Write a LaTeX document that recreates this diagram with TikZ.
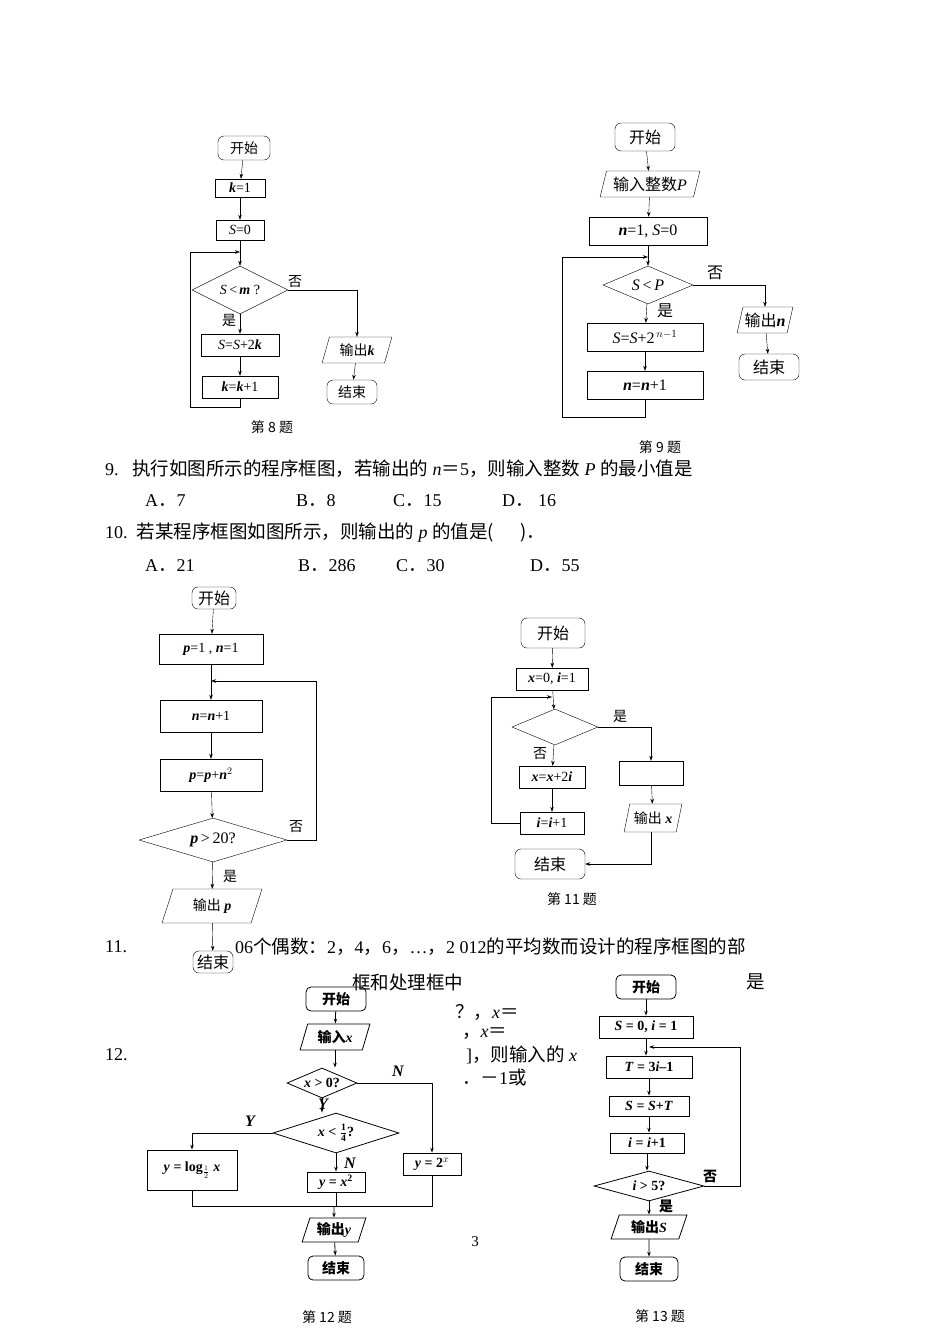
\documentclass[tikz,border=0pt]{standalone}
\usepackage{fontspec}
\setmainfont{Liberation Serif}
\newfontfamily\cjk{Noto Sans CJK SC}
\newcommand\zh[1]{{\cjk #1}}
\newcommand\zt[1]{{\cjk\fontsize{18.5}{18.5}\selectfont #1}}
\usetikzlibrary{shapes.geometric,arrows.meta}
\tikzset{
 every picture/.style={x=1pt,y=-1pt},
 bx/.style={draw,thin,inner sep=0pt,font=\fontsize{14}{14}\selectfont},
 bxl/.style={bx,font=\fontsize{16}{16}\selectfont},
 rbx/.style={bx,rounded corners=6pt},
 dia/.style={bx,diamond,aspect=2.2},
 par/.style={bx,trapezium,trapezium left angle=70,trapezium right angle=110,trapezium stretches=true},
 ar/.style={-{Stealth[length=5pt,width=3.5pt]},thin},
 lb/.style={font=\fontsize{14}{14}\selectfont\cjk},
 lbl/.style={font=\fontsize{16}{16}\selectfont\cjk},
 tx/.style={font=\fontsize{18}{18}\selectfont,anchor=west,inner sep=0pt},
 NY/.style={font=\fontsize{16}{16}\selectfont\itshape\bfseries},
}
\begin{document}
\begin{tikzpicture}
\useasboundingbox (0,0) rectangle (950,1342);
% ---- chart 8
\node[rbx,minimum width=52,minimum height=24] (a1) at (244,148) {\zh{开始}};
\node[bx,minimum width=50,minimum height=18] (a2) at (240,188) {\textbf{\textit{k}}=1};
\node[bx,minimum width=48,minimum height=20] (a3) at (240,230) {\textit{S}=0};
\node[dia,minimum width=96,minimum height=48] (a4) at (240,290) {\textit{S}\,<\,\textbf{\textit{m}} ?};
\node[bx,minimum width=78,minimum height=22] (a5) at (240,345) {\textit{S}=\textit{S}+2\textbf{\textit{k}}};
\node[bx,minimum width=76,minimum height=22] (a6) at (240,387) {\textbf{\textit{k}}=\textbf{\textit{k}}+1};
\node[par,minimum width=70,minimum height=26] (a7) at (357,350) {\zh{输出}\textbf{\textit{k}}};
\node[rbx,minimum width=50,minimum height=24] (a8) at (352,392) {\zh{结束}};
\draw[ar] (a1)--(a2); \draw[ar] (a2)--(a3); \draw[ar] (a3)--(a4);
\draw[ar] (a4)--(a5); \draw[ar] (a5)--(a6);
\draw[ar] (a4.east)-|(a7.north); \draw[ar] (a7)--(a8);
\coordinate (j8) at (240,252);
\draw[ar] (a6.south)--(240,407)-|(190,252)--(j8);
\node[lb] at (295,282) {否}; \node[lb] at (229,320) {是};
\node[lb] at (272,427) {第 8 题};
% ---- chart 9
\node[rbx,bxl,minimum width=60,minimum height=28] (b1) at (645,137) {\zh{开始}};
\node[par,bxl,minimum width=100,minimum height=26] (b2) at (650,184) {\zh{输入整数}\textit{P}};
\node[bxl,minimum width=118,minimum height=28] (b3) at (648,231) {\textbf{\textit{n}}=1, \textit{S}=0};
\node[dia,bxl,minimum width=90,minimum height=38] (b4) at (648,285) {\textit{S}\,<\,\textit{P}};
\node[bxl,minimum width=116,minimum height=28] (b5) at (645,337) {\textit{S}=\textit{S}+2$^{\,n-1}$};
\node[bxl,minimum width=116,minimum height=28] (b6) at (645,385) {\textbf{\textit{n}}=\textbf{\textit{n}}+1};
\node[par,bxl,minimum width=56,minimum height=26] (b7) at (765,320) {\zh{输出}\textbf{\textit{n}}};
\node[rbx,bxl,minimum width=60,minimum height=26] (b8) at (769,367) {\zh{结束}};
\draw[ar] (b1)--(b2); \draw[ar] (b2)--(b3); \draw[ar] (b3)--(b4);
\draw[ar] (b4)--(b5); \draw[ar] (b5)--(b6);
\draw[ar] (b4.east)-|(b7.north); \draw[ar] (b7)--(b8);
\coordinate (j9) at (648,257);
\draw[ar] (b6.south)--(645,417)-|(562,257)--(j9);
\node[lbl] at (665,311) {是}; \node[lbl] at (715,273) {否};
\node[lb] at (660,447) {第 9 题};
% ---- texts
\node[tx] at (105,469) {9.\ \ \ \zt{执行如图所示的程序框图，若输出的} \textit{n}\zt{＝}5\zt{，则输入整数} \textit{P} \zt{的最小值是}};
\node[tx] at (145,501) {A\zt{．}7}; \node[tx] at (296,501) {B\zt{．}8};
\node[tx] at (393,501) {C\zt{．}15}; \node[tx] at (502,501) {D\zt{．} 16};
\node[tx] at (105,533) {10.\ \ \zt{若某程序框图如图所示，则输出的} \textit{p} \zt{的值是(\quad\ \ )．}};
\node[tx] at (145,566) {A\zt{．}21}; \node[tx] at (298,566) {B\zt{．}286};
\node[tx] at (396,566) {C\zt{．}30}; \node[tx] at (530,566) {D\zt{．}55};
% ---- chart 10
\node[rbx,bxl,minimum width=44,minimum height=22] (c1) at (214,598) {\zh{开始}};
\node[bx,minimum width=104,minimum height=30] (c2) at (211,649) {\textbf{\textit{p}}=1 , \textbf{\textit{n}}=1};
\node[bx,minimum width=102,minimum height=32] (c3) at (211,716) {\textbf{\textit{n}}=\textbf{\textit{n}}+1};
\node[bx,minimum width=102,minimum height=32] (c4) at (211,775) {\textbf{\textit{p}}=\textbf{\textit{p}}+\textbf{\textit{n}}$^2$};
\node[dia,bxl,minimum width=148,minimum height=44,aspect=3.3] (c5) at (213,840) {\textbf{\textit{p}}\,>\,20?};
\node[par,minimum width=100,minimum height=34] (c6) at (212,906) {\zh{输出} \textbf{\textit{p}}};
\node[rbx,bxl,minimum width=40,minimum height=22] (c7) at (213,962) {\zh{结束}};
\draw[ar] (c1)--(c2); \coordinate (j10) at (211,681);
\draw[ar] (c2)--(c3); \draw[ar] (c3)--(c4); \draw[ar] (c4)--(c5);
\draw[ar] (c5)--(c6); \draw[ar] (c6)--(c7);
\draw[ar] (c5.east)--(316,840)--(316,681)--(j10);
\node[lb] at (296,827) {否}; \node[lb] at (230,876) {是};
% ---- chart 11
\node[rbx,bxl,minimum width=64,minimum height=30] (d1) at (553,633) {\zh{开始}};
\node[bx,minimum width=72,minimum height=22] (d2) at (552,679) {\textbf{\textit{x}}=0, \textbf{\textit{i}}=1};
\node[dia,minimum width=86,minimum height=36] (d3) at (555,727) {};
\node[bx,minimum width=66,minimum height=22] (d4) at (552,777) {\textbf{\textit{x}}=\textbf{\textit{x}}+2\textbf{\textit{i}}};
\node[bx,minimum width=64,minimum height=22] (d5) at (552,823) {\textbf{\textit{i}}=\textbf{\textit{i}}+1};
\node[bx,minimum width=64,minimum height=24] (d6) at (651,773) {};
\node[par,minimum width=58,minimum height=28] (d7) at (653,818) {\zh{输出} \textbf{\textit{x}}};
\node[rbx,bxl,minimum width=70,minimum height=30] (d8) at (550,864) {\zh{结束}};
\draw[ar] (d1)--(d2); \draw[ar] (d2)--(d3); \draw[ar] (d3)--(d4); \draw[ar] (d4)--(d5);
\coordinate (j11) at (552,697);
\draw[ar] (d5.west)--(491,823)--(491,697)--(j11);
\draw[ar] (d3.east)-|(d6.north); \draw[ar] (d6)--(d7);
\draw[ar] (d7.south-|651,0)--(651,864)--(d8.east);
\node[lb] at (620,716) {是}; \node[lb] at (540,754) {否};
\node[lb] at (572,899) {第 11 题};
% ---- text 11/12
\node[tx] at (105,947) {11.};
\node[tx] at (235,947) {06\zt{个偶数：}2\zt{，}4\zt{，}6\zt{，}…\zt{，}2 012\zt{的平均数而设计的程序框图的部}};
\node[tx] at (352,982) {\zt{框和处理框中}};
\node[tx] at (746,982) {\zt{是}};
\node[tx] at (455,1012) {\zt{？，}\textit{x}\zt{＝}};
\node[tx] at (462,1034) {\zt{，}\textit{x}\zt{＝}};
\node[tx] at (466,1055) {]\zt{，则输入的} \textit{x}};
\node[tx] at (462,1077) {\zt{．－}1\zt{或}};
\node[tx] at (105,1055) {12.};
\node[font=\fontsize{15}{15}\selectfont] at (475,1242) {3};
% ---- chart 12
\tikzset{bb/.style={draw,thick,inner sep=0pt,font=\fontsize{14}{14}\selectfont\bfseries}}
\node[bb,rounded corners=5pt,minimum width=60,minimum height=24] (e1) at (336,999) {\zh{开始}};
\node[par,bb,minimum width=70,minimum height=26] (e2) at (335,1037) {\zh{输入}\textit{x}};
\node[bb,diamond,aspect=2.3,minimum width=70,minimum height=30] (e3) at (322,1083) {\textit{x} > 0?};
\node[bb,diamond,aspect=3.1,minimum width=126,minimum height=40] (e4) at (336,1133) {\textit{x} < $\frac{\mathbf{1}}{\mathbf{4}}$?};
\node[bb,minimum width=90,minimum height=40] (e5) at (192,1170) {\textit{y} = log$_{\frac{1}{2}}$ \textit{x}};
\node[bb,minimum width=58,minimum height=20] (e6) at (336,1182) {\textit{y} = \textit{x}$^{\mathbf 2}$};
\node[bb,minimum width=58,minimum height=22] (e7) at (432,1164) {\textit{y} = 2$^{x}$};
\node[par,bb,minimum width=64,minimum height=24] (e8) at (334,1230) {\zh{输出}\textit{y}};
\node[bb,rounded corners=5pt,minimum width=56,minimum height=24] (e9) at (336,1268) {\zh{结束}};
\draw[ar,thick] (e1)--(e2); \draw[ar,thick] (e2.south)--(e3.north-|e2.south);
\draw[ar,thick] (e3.south)--(e4.north-|e3.south);
\draw[ar,thick] (e3.east)-|(e7.north);
\draw[ar,thick] (e4.west)-|(e5.north);
\draw[ar,thick] (e4.south)--(e6.north);
\coordinate (jm) at (334,1206);
\draw[thick] (e5.south)--(192,1206)--(432,1206)--(e7.south);
\draw[thick] (e6.south)--(336,1206);
\draw[ar,thick] (jm)--(e8.north);
\draw[ar,thick] (e8)--(e9);
\node[NY] at (398,1071) {N}; \node[NY] at (323,1104) {Y};
\node[NY] at (250,1121) {Y}; \node[NY] at (350,1163) {N};
\node[lb] at (327,1317) {第 12 题};
% ---- chart 13
\node[bb,rounded corners=5pt,minimum width=60,minimum height=24] (f1) at (646,987) {\zh{开始}};
\node[bb,minimum width=94,minimum height=22] (f2) at (646,1027) {\textit{S} = 0, \textit{i} = 1};
\node[bb,minimum width=86,minimum height=22] (f3) at (649,1067) {\textit{T} = 3\textit{i}--1};
\node[bb,minimum width=80,minimum height=20] (f4) at (649,1106) {\textit{S} = \textit{S}+\textit{T}};
\node[bb,minimum width=74,minimum height=20] (f5) at (647,1143) {\textit{i} = \textit{i}+1};
\node[bb,diamond,aspect=3.6,minimum width=110,minimum height=30] (f6) at (649,1186) {\textit{i} > 5?};
\node[par,bb,minimum width=76,minimum height=24] (f7) at (649,1227) {\zh{输出}\textit{S}};
\node[bb,rounded corners=5pt,minimum width=58,minimum height=24] (f8) at (649,1269) {\zh{结束}};
\draw[ar,thick] (f1)--(f2); \draw[ar,thick] (f2.south)--(f3.north-|f2.south);
\draw[ar,thick] (f3)--(f4); \draw[ar,thick] (f4.south)--(f5.north-|f4.south);
\draw[ar,thick] (f5.south)--(f6.north-|f5.south); \draw[ar,thick] (f6)--(f7); \draw[ar,thick] (f7)--(f8);
\coordinate (j13) at (649,1047);
\draw[ar,thick] (f6.east)--(740,1186)--(740,1047)--(j13);
\node[lb,font=\fontsize{14}{14}\selectfont\bfseries\cjk] at (710,1176) {否};
\node[lb,font=\fontsize{14}{14}\selectfont\bfseries\cjk] at (666,1206) {是};
\node[lb] at (660,1316) {第 13 题};
\end{tikzpicture}
\end{document}
